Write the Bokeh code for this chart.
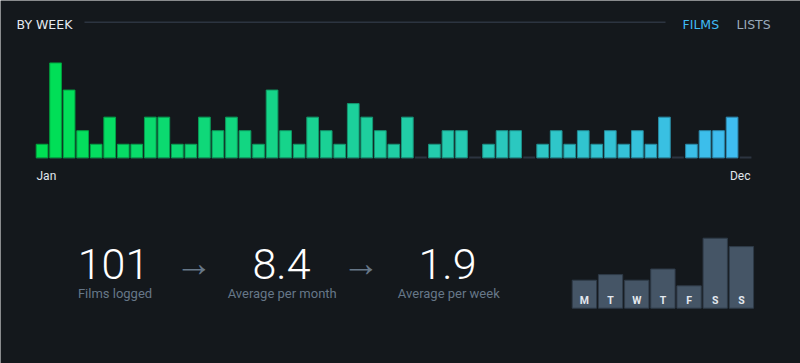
from bokeh.plotting import figure
from bokeh.models import Range1d, ColumnDataSource
from bokeh.core.properties import value
from bokeh.embed import file_html
from bokeh.resources import INLINE

# ---- data ----
weekly_films = [1, 7, 5, 2, 1, 3, 1, 1, 3, 3, 1, 1, 3, 2, 3, 2, 1, 5, 2,
                1, 3, 2, 1, 4, 3, 2, 1, 3, 0, 1, 2, 2, 0, 1, 2, 2,
                0, 1, 2, 1, 2, 1, 2, 1, 2, 1, 3, 0, 1, 2, 2, 3, 0]
month_ticks = ["Jan", "Dec"]
weekday_labels = ["M", "T", "W", "T", "F", "S", "S"]
weekday_films = [10, 12, 10, 14, 8, 25, 22]
stat_values = ["101", "8.4", "1.9"]
stat_labels = ["Films logged", "Average per month", "Average per week"]
tabs = ["FILMS", "LISTS"]
title = "BY WEEK"

BG = "#14181c"
W, H = 800, 363

def lerp_color(c1, c2, t):
    a = [int(c1[i:i + 2], 16) for i in (1, 3, 5)]
    b = [int(c2[i:i + 2], 16) for i in (1, 3, 5)]
    return "#%02x%02x%02x" % tuple(round(a[k] + (b[k] - a[k]) * t) for k in range(3))

def darken(c, f=0.72):
    a = [int(c[i:i + 2], 16) for i in (1, 3, 5)]
    return "#%02x%02x%02x" % tuple(int(v * f) for v in a)

n = len(weekly_films)
weeks = list(range(n))
colors = [lerp_color("#00e054", "#40bcf4", i / (n - 1)) for i in weeks]
edges = [darken(c) for c in colors]

p = figure(width=W, height=H, output_backend="svg", toolbar_location=None,
           x_range=Range1d(-3.071, 56.057), y_range=Range1d(-15.181, 11.609),
           x_axis_type=None, y_axis_type=None, min_border=0,
           background_fill_color=BG, border_fill_color=BG, outline_line_color=None)
p.grid.visible = False
p.extra_x_ranges = {"wd": Range1d(-22.312, 8.258), "px": Range1d(0, W)}
p.extra_y_ranges = {"wdy": Range1d(-19.75, 109.89), "py": Range1d(H, 0)}

# baseline stubs for every week
p.vbar(x=weeks, width=0.865, bottom=-0.06, top=0.09, fill_color="#2c3440", line_color=None)

nz = [w for w in weeks if weekly_films[w] > 0]
wsrc = ColumnDataSource(dict(x=nz, top=[weekly_films[w] for w in nz],
                             fill=[colors[w] for w in nz], edge=[edges[w] for w in nz]))
p.vbar(x="x", top="top", bottom=0, width=0.865, source=wsrc,
       fill_color="fill", line_color="edge", line_width=1)

# weekday mini chart
dsrc = ColumnDataSource(dict(x=list(range(len(weekday_labels))), top=weekday_films, lab=weekday_labels))
p.vbar(x="x", top="top", bottom=0, width=0.93, source=dsrc,
       x_range_name="wd", y_range_name="wdy",
       fill_color="#455566", line_color="#2e3a47", line_width=1)
p.text(x="x", y=0, text="lab", source=dsrc, x_range_name="wd", y_range_name="wdy",
       y_offset=-8, text_align="center", text_baseline="middle",
       text_font=value("Roboto"), text_font_size="10.5px", text_font_style="bold",
       text_color="#e3e8ee")

def lab(text, x, y, size, color, font="Roboto", align="left", baseline="alphabetic", style="normal"):
    px = float(size.replace("px", ""))
    if baseline == "alphabetic":
        y = y - 0.39 * px
    p.text(x=[x], y=[y], text=[text], x_range_name="px", y_range_name="py",
           text_font=value(font), text_font_size=size, text_color=color,
           text_align=align, text_baseline=baseline, text_font_style=style)

# header
lab(title, 16, 28.5, "12.5px", "#e4eaf0", font="DejaVu Sans")
lab(tabs[0], 682, 28.5, "12.5px", "#40bcf4", font="DejaVu Sans")
lab(tabs[1], 736, 28.5, "12.5px", "#99aabb", font="DejaVu Sans")
p.quad(left=84, right=665, top=21, bottom=22.4, x_range_name="px", y_range_name="py",
       fill_color="#2c3440", line_color=None)

# month ticks
lab(month_ticks[0], 36, 180.5, "12px", "#e0e6ec")
lab(month_ticks[1], 750, 180.5, "12px", "#e0e6ec", align="right")

# stats
centers = [113, 281, 447]
label_centers = [114.5, 281.7, 448.3]
for v, l, cx, lx in zip(stat_values, stat_labels, centers, label_centers):
    lab(v, cx, 280, "43px", "#ffffff", font="Roboto Light", align="center")
    lab(l, lx, 298.3, "13px", "#667788", align="center")
for ax in (193.3, 360.3):
    lab("\u2192", ax, 262, "38px", "#667788", font="Roboto Light", align="center", baseline="middle")

html = file_html(p, INLINE)
html = html.replace("<body>", '<body style="background-color:#14181c;margin:0;">', 1)
open("out.html", "w").write(html)
